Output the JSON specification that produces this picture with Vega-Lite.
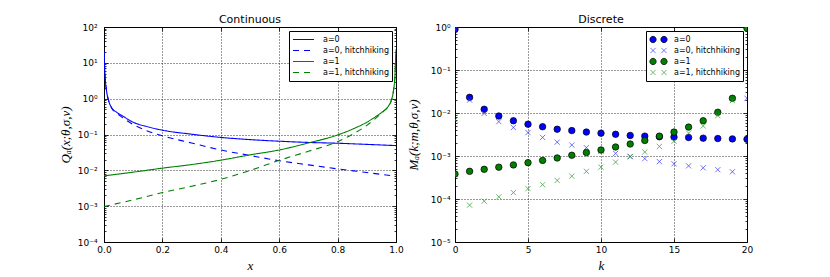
{
  "$schema": "https://vega.github.io/schema/vega-lite/v6.json",
  "autosize": {"type": "none"},
  "padding": {"left": 104, "top": 27, "right": 726, "bottom": 250},
  "bounds": "flush",
  "spacing": 59,
  "background": "white",
  "resolve": {
    "scale": {"color": "independent", "fill": "independent", "stroke": "independent", "strokeDash": "independent", "shape": "independent"},
    "legend": {"color": "independent", "fill": "independent", "stroke": "independent", "strokeDash": "independent", "shape": "independent"}
  },
  "config": {
    "font": "DejaVu Sans",
    "view": {"stroke": "black", "strokeWidth": 1},
    "axis": {
      "domain": false,
      "labelFlush": false,
      "labelFont": "DejaVu Sans",
      "labelFontSize": 9,
      "labelColor": "black",
      "tickColor": "black",
      "tickWidth": 0.8,
      "gridColor": "#000000",
      "gridDash": [1, 2],
      "gridWidth": 0.8,
      "titleFont": "Liberation Serif",
      "titleFontStyle": "italic",
      "titleFontWeight": "normal",
      "titleColor": "black",
      "titleFontSize": 13
    },
    "legend": {
      "labelFont": "DejaVu Sans",
      "labelFontSize": 8,
      "labelColor": "black",
      "labelLimit": 0,
      "fillColor": "white",
      "strokeColor": "black",
      "orient": "top-right",
      "offset": 4,
      "clipHeight": 11,
      "rowPadding": 0
    },
    "title": {"font": "DejaVu Sans", "fontSize": 11, "fontWeight": "normal", "color": "black", "offset": -2, "anchor": "middle", "frame": "group"}
  },
  "datasets": {
    "cont": [
      {"x": 0, "q": 20, "s": "a=0"},
      {"x": 0.0034, "q": 4.6, "s": "a=0"},
      {"x": 0.009, "q": 1.58, "s": "a=0"},
      {"x": 0.015, "q": 0.93, "s": "a=0"},
      {"x": 0.026, "q": 0.56, "s": "a=0"},
      {"x": 0.043, "q": 0.42, "s": "a=0"},
      {"x": 0.066, "q": 0.32, "s": "a=0"},
      {"x": 0.1, "q": 0.22, "s": "a=0"},
      {"x": 0.146, "q": 0.167, "s": "a=0"},
      {"x": 0.2, "q": 0.132, "s": "a=0"},
      {"x": 0.3, "q": 0.102, "s": "a=0"},
      {"x": 0.4, "q": 0.083, "s": "a=0"},
      {"x": 0.5, "q": 0.072, "s": "a=0"},
      {"x": 0.6, "q": 0.065, "s": "a=0"},
      {"x": 0.7, "q": 0.06, "s": "a=0"},
      {"x": 0.8, "q": 0.057, "s": "a=0"},
      {"x": 0.9, "q": 0.053, "s": "a=0"},
      {"x": 1.0, "q": 0.049, "s": "a=0"},
      {"x": 0, "q": 20, "s": "a=0, hitchhiking"},
      {"x": 0.0034, "q": 4.6, "s": "a=0, hitchhiking"},
      {"x": 0.009, "q": 1.58, "s": "a=0, hitchhiking"},
      {"x": 0.015, "q": 0.93, "s": "a=0, hitchhiking"},
      {"x": 0.026, "q": 0.55, "s": "a=0, hitchhiking"},
      {"x": 0.043, "q": 0.4, "s": "a=0, hitchhiking"},
      {"x": 0.066, "q": 0.285, "s": "a=0, hitchhiking"},
      {"x": 0.1, "q": 0.19, "s": "a=0, hitchhiking"},
      {"x": 0.146, "q": 0.128, "s": "a=0, hitchhiking"},
      {"x": 0.2, "q": 0.092, "s": "a=0, hitchhiking"},
      {"x": 0.3, "q": 0.058, "s": "a=0, hitchhiking"},
      {"x": 0.4, "q": 0.037, "s": "a=0, hitchhiking"},
      {"x": 0.5, "q": 0.026, "s": "a=0, hitchhiking"},
      {"x": 0.6, "q": 0.0185, "s": "a=0, hitchhiking"},
      {"x": 0.7, "q": 0.0142, "s": "a=0, hitchhiking"},
      {"x": 0.8, "q": 0.011, "s": "a=0, hitchhiking"},
      {"x": 0.9, "q": 0.0087, "s": "a=0, hitchhiking"},
      {"x": 1.0, "q": 0.0068, "s": "a=0, hitchhiking"},
      {"x": 0, "q": 0.007, "s": "a=1"},
      {"x": 0.1, "q": 0.0089, "s": "a=1"},
      {"x": 0.2, "q": 0.0115, "s": "a=1"},
      {"x": 0.3, "q": 0.0145, "s": "a=1"},
      {"x": 0.4, "q": 0.0192, "s": "a=1"},
      {"x": 0.5, "q": 0.027, "s": "a=1"},
      {"x": 0.6, "q": 0.037, "s": "a=1"},
      {"x": 0.7, "q": 0.058, "s": "a=1"},
      {"x": 0.8, "q": 0.097, "s": "a=1"},
      {"x": 0.85, "q": 0.14, "s": "a=1"},
      {"x": 0.9, "q": 0.22, "s": "a=1"},
      {"x": 0.934, "q": 0.33, "s": "a=1"},
      {"x": 0.957, "q": 0.45, "s": "a=1"},
      {"x": 0.974, "q": 0.62, "s": "a=1"},
      {"x": 0.985, "q": 0.95, "s": "a=1"},
      {"x": 0.991, "q": 1.6, "s": "a=1"},
      {"x": 0.9966, "q": 4.6, "s": "a=1"},
      {"x": 1.0, "q": 24, "s": "a=1"},
      {"x": 0, "q": 0.00098, "s": "a=1, hitchhiking"},
      {"x": 0.1, "q": 0.0015, "s": "a=1, hitchhiking"},
      {"x": 0.2, "q": 0.0024, "s": "a=1, hitchhiking"},
      {"x": 0.3, "q": 0.0036, "s": "a=1, hitchhiking"},
      {"x": 0.4, "q": 0.0056, "s": "a=1, hitchhiking"},
      {"x": 0.5, "q": 0.0099, "s": "a=1, hitchhiking"},
      {"x": 0.6, "q": 0.019, "s": "a=1, hitchhiking"},
      {"x": 0.7, "q": 0.034, "s": "a=1, hitchhiking"},
      {"x": 0.8, "q": 0.063, "s": "a=1, hitchhiking"},
      {"x": 0.85, "q": 0.1, "s": "a=1, hitchhiking"},
      {"x": 0.9, "q": 0.18, "s": "a=1, hitchhiking"},
      {"x": 0.934, "q": 0.3, "s": "a=1, hitchhiking"},
      {"x": 0.957, "q": 0.44, "s": "a=1, hitchhiking"},
      {"x": 0.974, "q": 0.62, "s": "a=1, hitchhiking"},
      {"x": 0.985, "q": 0.95, "s": "a=1, hitchhiking"},
      {"x": 0.991, "q": 1.6, "s": "a=1, hitchhiking"},
      {"x": 0.9966, "q": 4.6, "s": "a=1, hitchhiking"},
      {"x": 1.0, "q": 24, "s": "a=1, hitchhiking"}
    ],
    "disc": [
      {"k": 0, "m": 0.88, "s": "a=0"},
      {"k": 1, "m": 0.0231, "s": "a=0"},
      {"k": 2, "m": 0.0122, "s": "a=0"},
      {"k": 3, "m": 0.0085, "s": "a=0"},
      {"k": 4, "m": 0.0066, "s": "a=0"},
      {"k": 5, "m": 0.0055, "s": "a=0"},
      {"k": 6, "m": 0.0048, "s": "a=0"},
      {"k": 7, "m": 0.0042, "s": "a=0"},
      {"k": 8, "m": 0.0039, "s": "a=0"},
      {"k": 9, "m": 0.0036, "s": "a=0"},
      {"k": 10, "m": 0.0034, "s": "a=0"},
      {"k": 11, "m": 0.0032, "s": "a=0"},
      {"k": 12, "m": 0.003, "s": "a=0"},
      {"k": 13, "m": 0.0029, "s": "a=0"},
      {"k": 14, "m": 0.0028, "s": "a=0"},
      {"k": 15, "m": 0.00276, "s": "a=0"},
      {"k": 16, "m": 0.0027, "s": "a=0"},
      {"k": 17, "m": 0.0026, "s": "a=0"},
      {"k": 18, "m": 0.00255, "s": "a=0"},
      {"k": 19, "m": 0.0025, "s": "a=0"},
      {"k": 20, "m": 0.00245, "s": "a=0"},
      {"k": 0, "m": 0.88, "s": "a=0, hitchhiking"},
      {"k": 1, "m": 0.02, "s": "a=0, hitchhiking"},
      {"k": 2, "m": 0.0098, "s": "a=0, hitchhiking"},
      {"k": 3, "m": 0.0063, "s": "a=0, hitchhiking"},
      {"k": 4, "m": 0.0046, "s": "a=0, hitchhiking"},
      {"k": 5, "m": 0.0035, "s": "a=0, hitchhiking"},
      {"k": 6, "m": 0.0027, "s": "a=0, hitchhiking"},
      {"k": 7, "m": 0.0021, "s": "a=0, hitchhiking"},
      {"k": 8, "m": 0.0018, "s": "a=0, hitchhiking"},
      {"k": 9, "m": 0.00156, "s": "a=0, hitchhiking"},
      {"k": 10, "m": 0.0013, "s": "a=0, hitchhiking"},
      {"k": 11, "m": 0.00115, "s": "a=0, hitchhiking"},
      {"k": 12, "m": 0.00098, "s": "a=0, hitchhiking"},
      {"k": 13, "m": 0.00087, "s": "a=0, hitchhiking"},
      {"k": 14, "m": 0.00074, "s": "a=0, hitchhiking"},
      {"k": 15, "m": 0.00066, "s": "a=0, hitchhiking"},
      {"k": 16, "m": 0.00059, "s": "a=0, hitchhiking"},
      {"k": 17, "m": 0.00053, "s": "a=0, hitchhiking"},
      {"k": 18, "m": 0.00048, "s": "a=0, hitchhiking"},
      {"k": 19, "m": 0.00043, "s": "a=0, hitchhiking"},
      {"k": 20, "m": 0.022, "s": "a=0, hitchhiking"},
      {"k": 0, "m": 0.00038, "s": "a=1"},
      {"k": 1, "m": 0.00044, "s": "a=1"},
      {"k": 2, "m": 0.00049, "s": "a=1"},
      {"k": 3, "m": 0.00055, "s": "a=1"},
      {"k": 4, "m": 0.00062, "s": "a=1"},
      {"k": 5, "m": 0.0007, "s": "a=1"},
      {"k": 6, "m": 0.00079, "s": "a=1"},
      {"k": 7, "m": 0.0009, "s": "a=1"},
      {"k": 8, "m": 0.00104, "s": "a=1"},
      {"k": 9, "m": 0.0012, "s": "a=1"},
      {"k": 10, "m": 0.00138, "s": "a=1"},
      {"k": 11, "m": 0.00162, "s": "a=1"},
      {"k": 12, "m": 0.0019, "s": "a=1"},
      {"k": 13, "m": 0.0023, "s": "a=1"},
      {"k": 14, "m": 0.0029, "s": "a=1"},
      {"k": 15, "m": 0.0036, "s": "a=1"},
      {"k": 16, "m": 0.0047, "s": "a=1"},
      {"k": 17, "m": 0.0066, "s": "a=1"},
      {"k": 18, "m": 0.0104, "s": "a=1"},
      {"k": 19, "m": 0.022, "s": "a=1"},
      {"k": 20, "m": 0.93, "s": "a=1"},
      {"k": 0, "m": 0.0069, "s": "a=1, hitchhiking"},
      {"k": 1, "m": 0.000072, "s": "a=1, hitchhiking"},
      {"k": 2, "m": 0.000089, "s": "a=1, hitchhiking"},
      {"k": 3, "m": 0.000112, "s": "a=1, hitchhiking"},
      {"k": 4, "m": 0.000141, "s": "a=1, hitchhiking"},
      {"k": 5, "m": 0.000174, "s": "a=1, hitchhiking"},
      {"k": 6, "m": 0.000215, "s": "a=1, hitchhiking"},
      {"k": 7, "m": 0.00027, "s": "a=1, hitchhiking"},
      {"k": 8, "m": 0.00034, "s": "a=1, hitchhiking"},
      {"k": 9, "m": 0.00044, "s": "a=1, hitchhiking"},
      {"k": 10, "m": 0.00055, "s": "a=1, hitchhiking"},
      {"k": 11, "m": 0.00072, "s": "a=1, hitchhiking"},
      {"k": 12, "m": 0.00096, "s": "a=1, hitchhiking"},
      {"k": 13, "m": 0.00124, "s": "a=1, hitchhiking"},
      {"k": 14, "m": 0.00167, "s": "a=1, hitchhiking"},
      {"k": 15, "m": 0.0022, "s": "a=1, hitchhiking"},
      {"k": 16, "m": 0.0034, "s": "a=1, hitchhiking"},
      {"k": 17, "m": 0.005, "s": "a=1, hitchhiking"},
      {"k": 18, "m": 0.0087, "s": "a=1, hitchhiking"},
      {"k": 19, "m": 0.0194, "s": "a=1, hitchhiking"},
      {"k": 20, "m": 0.93, "s": "a=1, hitchhiking"}
    ]
  },
  "hconcat": [
    {
      "width": 292,
      "height": 215,
      "title": {"text": "Continuous"},
      "layer": [
        {
          "data": {"name": "cont"},
          "mark": {"type": "line", "interpolate": "monotone", "strokeWidth": 1.1, "clip": true},
          "encoding": {
            "x": {"field": "x", "type": "quantitative",
              "scale": {"domain": [0, 1], "nice": false, "zero": false},
              "axis": {"orient": "bottom", "values": [0, 0.2, 0.4, 0.6, 0.8, 1.0], "format": ".1f", "tickSize": -4, "labelPadding": 7, "title": "x", "titlePadding": 5, "grid": true}},
            "y": {"field": "q", "type": "quantitative",
              "scale": {"type": "log", "domain": [0.0001, 100], "nice": false},
              "axis": {"orient": "left",
                "values": [0.0001,0.0002,0.0003,0.0004,0.0005,0.0006,0.0007,0.0008,0.0009,0.001,0.002,0.003,0.004,0.005,0.006,0.007,0.008,0.009,0.01,0.02,0.03,0.04,0.05,0.06,0.07,0.08,0.09,0.1,0.2,0.3,0.4,0.5,0.6,0.7,0.8,0.9,1,2,3,4,5,6,7,8,9,10,20,30,40,50,60,70,80,90,100],
                "tickSize": {"condition": {"test": "abs(log(datum.value)/LN10 - round(log(datum.value)/LN10)) < 0.01", "value": -4}, "value": -2},
                "gridOpacity": {"condition": {"test": "abs(log(datum.value)/LN10 - round(log(datum.value)/LN10)) < 0.01", "value": 1}, "value": 0},
                "labelExpr": "abs(log(datum.value)/LN10 - round(log(datum.value)/LN10)) < 0.01 ? '10' + (round(log(datum.value)/LN10) < 0 ? '⁻' : '') + ['⁰','¹','²','³','⁴','⁵','⁶'][abs(round(log(datum.value)/LN10))] : ''",
                "labelPadding": 11, "title": "Qₐ(x;θ,σ,ν)", "titlePadding": 5, "grid": true}},
            "color": {"field": "s", "type": "nominal",
              "scale": {"domain": ["a=0", "a=0, hitchhiking", "a=1", "a=1, hitchhiking"], "range": ["#0000ff", "#0000ff", "#008000", "#008000"]},
              "legend": {"title": null, "padding": 3, "symbolSize": 441, "symbolStrokeWidth": 1.1, "labelOffset": 8}},
            "strokeDash": {"field": "s", "type": "nominal",
              "scale": {"domain": ["a=0", "a=0, hitchhiking", "a=1", "a=1, hitchhiking"], "range": [[1, 0], [6, 5], [1, 0], [6, 5]]},
              "legend": {"title": null, "padding": 3, "symbolSize": 441, "symbolStrokeWidth": 1.1, "labelOffset": 8}}
          }
        },
        {
          "data": {"name": "cont"},
          "mark": {"type": "point", "opacity": 0},
          "encoding": {
            "x": {"field": "x", "type": "quantitative",
              "scale": {"domain": [0, 1], "nice": false, "zero": false},
              "axis": {"orient": "top", "values": [0, 0.2, 0.4, 0.6, 0.8, 1.0], "tickSize": -4, "labels": false, "grid": false, "title": null}},
            "y": {"field": "q", "type": "quantitative",
              "scale": {"type": "log", "domain": [0.0001, 100], "nice": false},
              "axis": {"orient": "right",
                "values": [0.0001,0.0002,0.0003,0.0004,0.0005,0.0006,0.0007,0.0008,0.0009,0.001,0.002,0.003,0.004,0.005,0.006,0.007,0.008,0.009,0.01,0.02,0.03,0.04,0.05,0.06,0.07,0.08,0.09,0.1,0.2,0.3,0.4,0.5,0.6,0.7,0.8,0.9,1,2,3,4,5,6,7,8,9,10,20,30,40,50,60,70,80,90,100],
                "tickSize": {"condition": {"test": "abs(log(datum.value)/LN10 - round(log(datum.value)/LN10)) < 0.01", "value": -4}, "value": -2},
                "labels": false, "grid": false, "title": null}}
          }
        }
      ],
      "resolve": {"axis": {"x": "independent", "y": "independent"}}
    },
    {
      "width": 292,
      "height": 215,
      "title": {"text": "Discrete"},
      "data": {"name": "disc"},
      "layer": [
        {
          "mark": {"type": "point", "filled": true, "opacity": 1, "size": 42, "strokeWidth": 0.7, "clip": true,
            "shape": {"expr": "indexof(datum.s, 'hitchhiking') >= 0 ? 'M-0.8,-0.8L0.8,0.8M-0.8,0.8L0.8,-0.8' : 'circle'"}},
          "encoding": {
            "x": {"field": "k", "type": "quantitative",
              "scale": {"domain": [0, 20], "nice": false},
              "axis": {"orient": "bottom", "values": [0, 5, 10, 15, 20], "format": "d", "tickSize": -4, "labelPadding": 7, "title": "k", "titlePadding": 5, "grid": true}},
            "y": {"field": "m", "type": "quantitative",
              "scale": {"type": "log", "domain": [0.00001, 1], "nice": false},
              "axis": {"orient": "left",
                "values": [0.00001,0.00002,0.00003,0.00004,0.00005,0.00006,0.00007,0.00008,0.00009,0.0001,0.0002,0.0003,0.0004,0.0005,0.0006,0.0007,0.0008,0.0009,0.001,0.002,0.003,0.004,0.005,0.006,0.007,0.008,0.009,0.01,0.02,0.03,0.04,0.05,0.06,0.07,0.08,0.09,0.1,0.2,0.3,0.4,0.5,0.6,0.7,0.8,0.9,1],
                "tickSize": {"condition": {"test": "abs(log(datum.value)/LN10 - round(log(datum.value)/LN10)) < 0.01", "value": -4}, "value": -2},
                "gridOpacity": {"condition": {"test": "abs(log(datum.value)/LN10 - round(log(datum.value)/LN10)) < 0.01", "value": 1}, "value": 0},
                "labelExpr": "abs(log(datum.value)/LN10 - round(log(datum.value)/LN10)) < 0.01 ? '10' + (round(log(datum.value)/LN10) < 0 ? '⁻' : '') + ['⁰','¹','²','³','⁴','⁵','⁶'][abs(round(log(datum.value)/LN10))] : ''",
                "labelPadding": 9, "title": "Mₐ(k;m,θ,σ,ν)", "titlePadding": 10, "grid": true}},
            "fill": {"field": "s", "type": "nominal",
              "scale": {"domain": ["a=0", "a=0, hitchhiking", "a=1", "a=1, hitchhiking"], "range": ["#0000ff", "#0000ff", "#008000", "#008000"]},
              "legend": {"title": null, "padding": 3, "symbolSize": 313, "symbolStrokeWidth": 0.7, "symbolOpacity": 1, "labelOffset": 6}},
            "stroke": {"field": "s", "type": "nominal",
              "scale": {"domain": ["a=0", "a=0, hitchhiking", "a=1", "a=1, hitchhiking"], "range": ["#000000", "#3535ff", "#000000", "#2a9a2a"]},
              "legend": {"title": null, "padding": 3, "symbolSize": 313, "symbolStrokeWidth": 0.7, "symbolOpacity": 1, "labelOffset": 6}}
          }
        },
        {
          "mark": {"type": "point", "filled": true, "opacity": 0, "size": 1},
          "encoding": {
            "x": {"field": "k", "type": "quantitative",
              "scale": {"domain": [0, 20], "nice": false},
              "axis": {"orient": "top", "values": [0, 5, 10, 15, 20], "tickSize": -4, "labels": false, "grid": false, "title": null}},
            "y": {"field": "m", "type": "quantitative",
              "scale": {"type": "log", "domain": [0.00001, 1], "nice": false},
              "axis": {"orient": "right",
                "values": [0.00001,0.00002,0.00003,0.00004,0.00005,0.00006,0.00007,0.00008,0.00009,0.0001,0.0002,0.0003,0.0004,0.0005,0.0006,0.0007,0.0008,0.0009,0.001,0.002,0.003,0.004,0.005,0.006,0.007,0.008,0.009,0.01,0.02,0.03,0.04,0.05,0.06,0.07,0.08,0.09,0.1,0.2,0.3,0.4,0.5,0.6,0.7,0.8,0.9,1],
                "tickSize": {"condition": {"test": "abs(log(datum.value)/LN10 - round(log(datum.value)/LN10)) < 0.01", "value": -4}, "value": -2},
                "labels": false, "grid": false, "title": null}},
            "fill": {"field": "s", "type": "nominal",
              "scale": {"domain": ["a=0", "a=0, hitchhiking", "a=1", "a=1, hitchhiking"], "range": ["#0000ff", "#0000ff", "#008000", "#008000"]},
              "legend": {"title": null, "padding": 3, "symbolSize": 313, "symbolStrokeWidth": 0.7, "symbolOpacity": 1, "labelOffset": 6}},
            "stroke": {"field": "s", "type": "nominal",
              "scale": {"domain": ["a=0", "a=0, hitchhiking", "a=1", "a=1, hitchhiking"], "range": ["#000000", "#3535ff", "#000000", "#2a9a2a"]},
              "legend": {"title": null, "padding": 3, "symbolSize": 313, "symbolStrokeWidth": 0.7, "symbolOpacity": 1, "labelOffset": 6}},
            "shape": {"field": "s", "type": "nominal",
              "scale": {"domain": ["a=0", "a=0, hitchhiking", "a=1", "a=1, hitchhiking"],
                "range": [
                  "M-0.98,0a0.36,0.36 0 1,0 0.72,0a0.36,0.36 0 1,0 -0.72,0M0.26,0a0.36,0.36 0 1,0 0.72,0a0.36,0.36 0 1,0 -0.72,0",
                  "M-0.91,-0.29L-0.33,0.29M-0.91,0.29L-0.33,-0.29M0.33,-0.29L0.91,0.29M0.33,0.29L0.91,-0.29",
                  "M-0.98,0a0.36,0.36 0 1,0 0.72,0a0.36,0.36 0 1,0 -0.72,0M0.26,0a0.36,0.36 0 1,0 0.72,0a0.36,0.36 0 1,0 -0.72,0",
                  "M-0.91,-0.29L-0.33,0.29M-0.91,0.29L-0.33,-0.29M0.33,-0.29L0.91,0.29M0.33,0.29L0.91,-0.29"]},
              "legend": {"title": null, "padding": 3, "symbolSize": 313, "symbolStrokeWidth": 0.7, "symbolOpacity": 1, "labelOffset": 6}}
          }
        }
      ],
      "resolve": {"axis": {"x": "independent", "y": "independent"}}
    }
  ]
}
